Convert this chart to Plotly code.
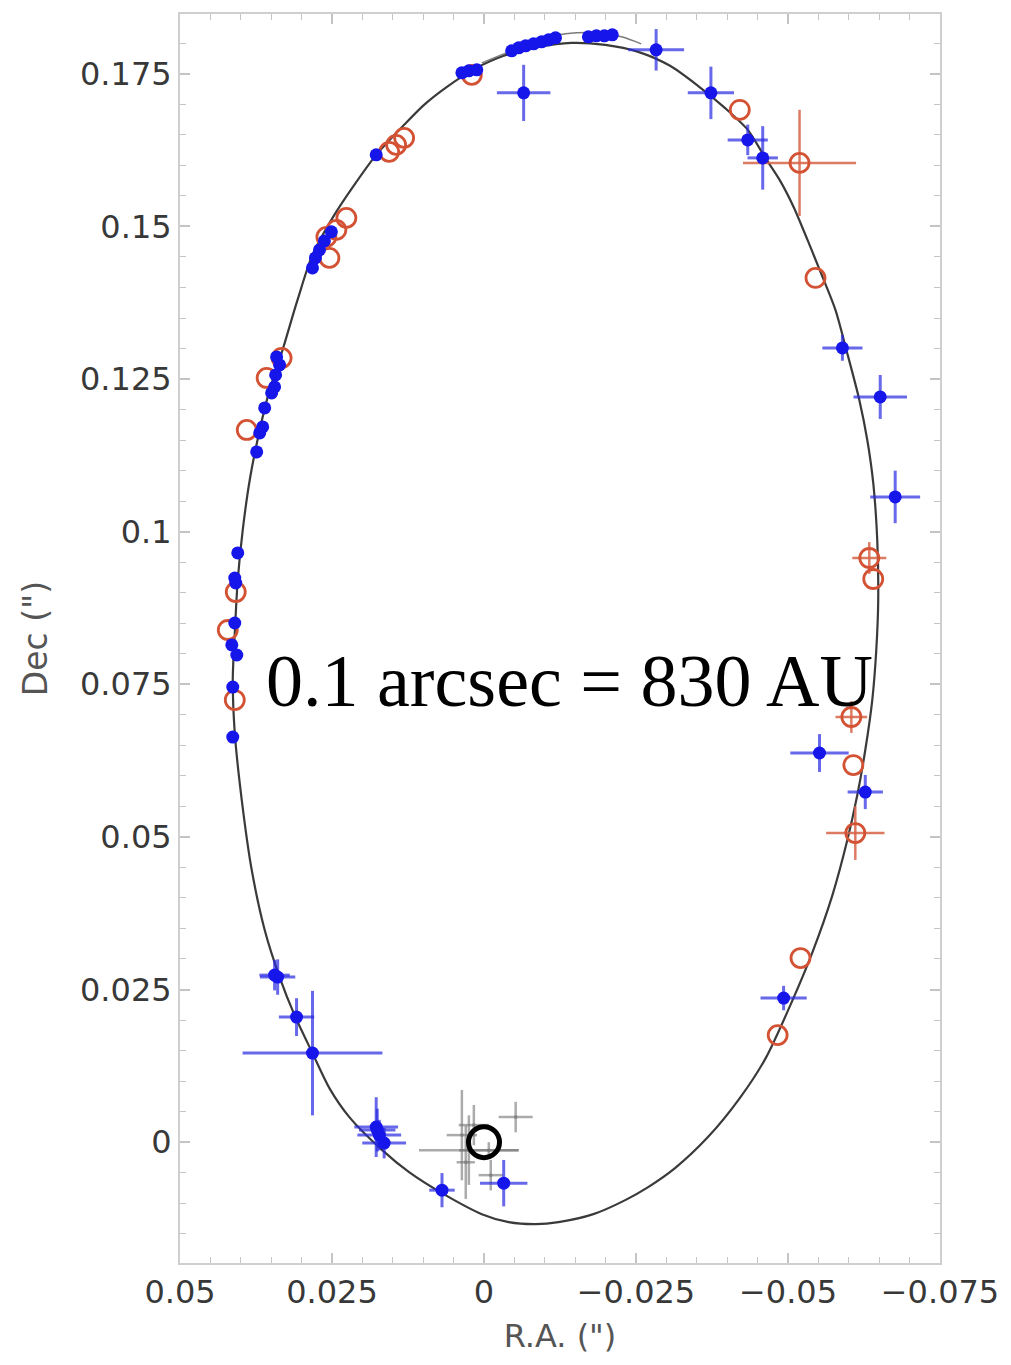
import plotly.graph_objects as go

# ---------------- data (arcsec) ----------------
# Best-fit orbit (clockwise from apocentre)
orbit_ra = [-0.01438, -0.01995, -0.02536, -0.03060, -0.03519, -0.03961, -0.04338, -0.04617,
            -0.04862, -0.05092, -0.05321, -0.05534, -0.05780, -0.05960, -0.06173, -0.06304,
            -0.06402, -0.06468, -0.06484, -0.06452, -0.06386, -0.06271, -0.06140, -0.05976,
            -0.05731, -0.05403, -0.05075, -0.04633, -0.04207, -0.03683, -0.03142, -0.02700,
            -0.02323, -0.01799, -0.01225, -0.00849, -0.00406, 0.00036, 0.00691, 0.01232,
            0.01674, 0.02215, 0.02543, 0.02821, 0.03116, 0.03362, 0.03607, 0.03820,
            0.03984, 0.04099, 0.04132, 0.04099, 0.04050, 0.03968, 0.03853, 0.03689,
            0.03526, 0.03313, 0.03067, 0.02821, 0.02461, 0.02133, 0.01773, 0.01314,
            0.00986, 0.00609, 0.00151, -0.00324, -0.00898, -0.01438]
orbit_dec = [0.18007, 0.17974, 0.17860, 0.17631, 0.17303, 0.16942, 0.16582, 0.16139,
             0.15763, 0.15320, 0.14779, 0.14255, 0.13633, 0.12977, 0.12158, 0.11502,
             0.10798, 0.09864, 0.08881, 0.08061, 0.07242, 0.06423, 0.05686, 0.04948,
             0.04047, 0.03113, 0.02327, 0.01376, 0.00721, 0.00082, -0.00426, -0.00737,
             -0.00950, -0.01180, -0.01311, -0.01344, -0.01311, -0.01180, -0.00836, -0.00492,
             -0.00131, 0.00410, 0.00885, 0.01458, 0.02081, 0.02704, 0.03474, 0.04457,
             0.05604, 0.06702, 0.07570, 0.08340, 0.09208, 0.10028, 0.10847, 0.11666,
             0.12322, 0.12977, 0.13796, 0.14534, 0.15189, 0.15681, 0.16173, 0.16664,
             0.16992, 0.17287, 0.17581, 0.17795, 0.17942, 0.18007]

# second (alternative) fit segment near apocentre
alt_ra = [0.00036, -0.00406, -0.00898, -0.01340, -0.01881, -0.02258, -0.02585]
alt_dec = [0.17680, 0.17860, 0.18057, 0.18155, 0.18171, 0.18106, 0.17991]

# Keck-type measurements (blue filled)
blue_ra = [0.00364, 0.00249, 0.00118, -0.00455, -0.00570, -0.00685, -0.00816, -0.00947,
           -0.01062, -0.01176, -0.01717, -0.01848, -0.01979, -0.02110, -0.00652, -0.02831,
           -0.03732, -0.04338, -0.04584, -0.05895, -0.06517, -0.06763, -0.05518, -0.06271,
           -0.04928, 0.01773, 0.02510, 0.02625, 0.02706, 0.02772, 0.02821, 0.03411,
           0.03362, 0.03427, 0.03444, 0.03493, 0.03607, 0.03640, 0.03689, 0.03739,
           0.04050, 0.04083, 0.04099, 0.04099, 0.04148, 0.04066, 0.04132, 0.04132,
           0.03394, 0.03444, 0.03083, 0.02821, 0.01773, 0.01723, 0.01642, 0.01756,
           0.00691, -0.00324]
blue_dec = [0.17516, 0.17549, 0.17565, 0.17876, 0.17926, 0.17958, 0.17991, 0.18024,
            0.18057, 0.18089, 0.18106, 0.18122, 0.18122, 0.18139, 0.17188, 0.17893,
            0.17188, 0.16418, 0.16123, 0.13010, 0.12207, 0.10569, 0.06374, 0.05735,
            0.02360, 0.16173, 0.14911, 0.14763, 0.14616, 0.14485, 0.14321, 0.12863,
            0.12731, 0.12568, 0.12371, 0.12273, 0.12027, 0.11716, 0.11617, 0.11306,
            0.09651, 0.09159, 0.09241, 0.08504, 0.08144, 0.07980, 0.07455, 0.06636,
            0.02704, 0.02736, 0.02048, 0.01458, 0.00246, 0.00115, -0.00016, 0.00197,
            -0.00787, -0.00672]
blue_err_ra = [0, 0, 0, 0, 0, 0, 0, 0,
               0, 0, 0, 0, 0, 0, 0.0044, 0.0046,
               0.0038, 0.0033, 0.0025, 0.0033, 0.0044, 0.0041, 0.0048, 0.0029,
               0.0038, 0, 0, 0, 0, 0, 0, 0,
               0, 0, 0, 0, 0, 0, 0, 0,
               0, 0, 0, 0, 0, 0, 0, 0,
               0.0029, 0.0025, 0.0029, 0.0115, 0.0036, 0.0036, 0.0036, 0.0030,
               0.0021, 0.0039]
blue_err_dec = [0, 0, 0, 0, 0, 0, 0, 0,
                0, 0, 0, 0, 0, 0, 0.0046, 0.0034,
                0.0043, 0.0025, 0.0052, 0.0021, 0.0036, 0.0043, 0.0031, 0.0028,
                0.0020, 0, 0, 0, 0, 0, 0, 0,
                0, 0, 0, 0, 0, 0, 0, 0,
                0, 0, 0, 0, 0, 0, 0, 0,
                0.0029, 0.0025, 0.0031, 0.0102, 0.0049, 0.0025, 0.0025, 0.0035,
                0.0028, 0.0038]

# VLT-type measurements (red open)
red_ra = [0.00200, 0.01314, 0.01445, 0.01560, 0.02264, 0.02428, 0.02592, 0.02543,
          0.03329, 0.03575, 0.03902, 0.04083, 0.04214, 0.04099, -0.04207, -0.05190,
          -0.05452, -0.06337, -0.06402, -0.06042, -0.06075, -0.06107, -0.05206, -0.04830]
red_dec = [0.17483, 0.16451, 0.16336, 0.16222, 0.15140, 0.14944, 0.14829, 0.14485,
           0.12846, 0.12518, 0.11666, 0.09012, 0.08389, 0.07242, 0.16910, 0.16041,
           0.14157, 0.09569, 0.09225, 0.06964, 0.06177, 0.05063, 0.03015, 0.01753]
red_err_ra = [0, 0, 0, 0, 0, 0, 0, 0,
              0, 0, 0, 0, 0, 0, 0, 0.0093,
              0, 0.0028, 0, 0.0026, 0, 0.0048, 0, 0]
red_err_dec = [0, 0, 0, 0, 0, 0, 0, 0,
               0, 0, 0, 0, 0, 0, 0, 0.0087,
               0, 0.0026, 0, 0.0026, 0, 0.0044, 0, 0]

# Sgr A* IR flare positions (grey crosses)
gray_ra = [0.00364, 0.00249, -0.00521, -0.00111, -0.00079, 0.00167, 0.00300]
gray_dec = [0.00115, -0.00131, 0.00410, -0.00541, -0.00131, 0.00279, -0.00330]
gray_err_ra = [0.0025, 0.0082, 0.0028, 0.0020, 0.0049, 0.0025, 0.0015]
gray_err_dec = [0.0074, 0.0057, 0.0025, 0.0025, 0.0013, 0.0033, 0.0060]

# Sgr A* (origin)
sgra_ra = [0.0]
sgra_dec = [0.0]

x_ticks = [0.05, 0.025, 0, -0.025, -0.05, -0.075]
x_labels = ["0.05", "0.025", "0", "\u22120.025", "\u22120.05", "\u22120.075"]
y_ticks = [0, 0.025, 0.05, 0.075, 0.1, 0.125, 0.15, 0.175]
y_labels = ["0", "0.025", "0.05", "0.075", "0.1", "0.125", "0.15", "0.175"]

note_text = "0.1 arcsec = 830 AU"
note_ra, note_dec = 0.0362, 0.0755

# ---------------- figure ----------------
fig = go.Figure()

fig.add_trace(go.Scatter(x=orbit_ra, y=orbit_dec, mode="lines",
                         line=dict(color="#3a3a3a", width=2.2, shape="spline", smoothing=0.8),
                         hoverinfo="skip", showlegend=False))
fig.add_trace(go.Scatter(x=alt_ra, y=alt_dec, mode="lines",
                         line=dict(color="#7a7a7a", width=1.5, shape="spline"),
                         hoverinfo="skip", showlegend=False))

fig.add_trace(go.Scatter(
    x=gray_ra, y=gray_dec, mode="markers",
    marker=dict(size=4, color="rgba(120,120,120,0.5)"),
    error_x=dict(type="data", array=gray_err_ra, color="rgba(115,115,115,0.6)",
                 thickness=2.5, width=0),
    error_y=dict(type="data", array=gray_err_dec, color="rgba(115,115,115,0.6)",
                 thickness=2.5, width=0),
    showlegend=False))

fig.add_trace(go.Scatter(
    x=red_ra, y=red_dec, mode="markers",
    marker=dict(symbol="circle-open", size=19, color="rgb(212,82,52)",
                line=dict(width=2.8, color="rgb(212,82,52)")),
    error_x=dict(type="data", array=red_err_ra, color="rgba(215,100,70,0.85)",
                 thickness=2.5, width=0),
    error_y=dict(type="data", array=red_err_dec, color="rgba(215,100,70,0.85)",
                 thickness=2.5, width=0),
    showlegend=False))

fig.add_trace(go.Scatter(
    x=blue_ra, y=blue_dec, mode="markers",
    marker=dict(symbol="circle", size=13, color="rgb(22,22,235)"),
    error_x=dict(type="data", array=blue_err_ra, color="rgba(40,40,225,0.7)",
                 thickness=3, width=0),
    error_y=dict(type="data", array=blue_err_dec, color="rgba(40,40,225,0.7)",
                 thickness=3, width=0),
    showlegend=False))

fig.add_trace(go.Scatter(
    x=sgra_ra, y=sgra_dec, mode="markers",
    marker=dict(symbol="circle-open", size=31, color="black",
                line=dict(width=5, color="black")),
    showlegend=False))

fig.add_annotation(x=note_ra, y=note_dec, xref="x", yref="y", text=note_text,
                   showarrow=False, xanchor="left", yanchor="middle",
                   font=dict(family="Liberation Serif, Times New Roman, serif",
                             size=74, color="black"))

axis_common = dict(
    showgrid=False, zeroline=False, showline=True, linecolor="#cfcfcf", linewidth=2,
    mirror="ticks", ticks="inside", ticklen=10, tickwidth=1.5, tickcolor="#c4c4c4",
    tickfont=dict(family="DejaVu Sans, Arial, sans-serif", size=32, color="#383838"),
)

fig.update_xaxes(**axis_common, range=[0.05, -0.075], tickvals=x_ticks, ticktext=x_labels,
                 minor=dict(ticks="inside", dtick=0.005, ticklen=6, tickcolor="#c4c4c4",
                            tickwidth=1.2, showgrid=False),
                 title=dict(text="R.A. (\")", standoff=14,
                            font=dict(family="DejaVu Sans, Arial, sans-serif", size=32,
                                      color="#555555")))
fig.update_yaxes(**axis_common, range=[-0.0198, 0.1848], tickvals=y_ticks, ticktext=y_labels,
                 minor=dict(ticks="inside", dtick=0.005, ticklen=6, tickcolor="#c4c4c4",
                            tickwidth=1.2, showgrid=False),
                 title=dict(text="Dec (\")", standoff=22,
                            font=dict(family="DejaVu Sans, Arial, sans-serif", size=33,
                                      color="#555555")))

fig.update_layout(width=1011, height=1365, margin=dict(l=180, r=68, t=14, b=102),
                  paper_bgcolor="white", plot_bgcolor="white", showlegend=False)

fig.write_html("out.html")
